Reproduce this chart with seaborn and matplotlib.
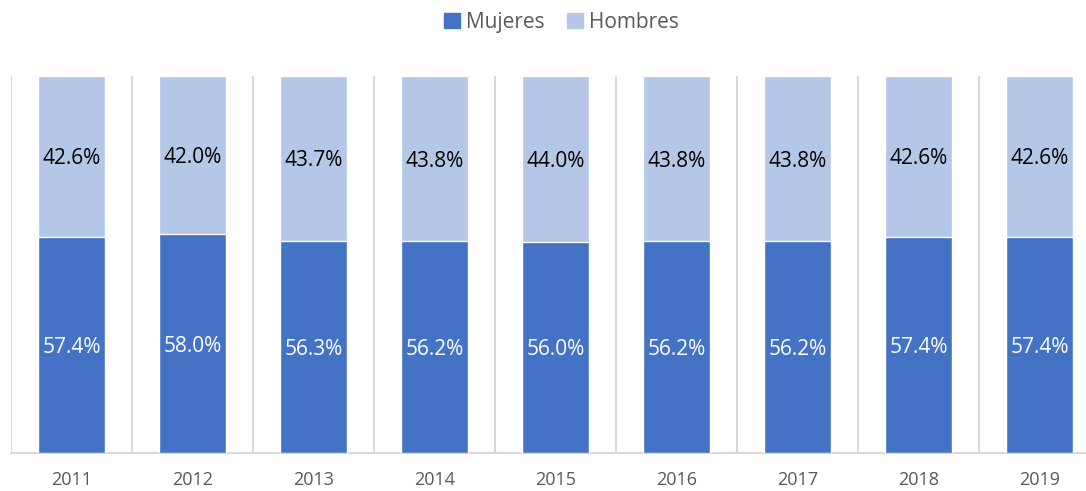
import matplotlib
matplotlib.use("Agg")
import matplotlib.pyplot as plt
from matplotlib.patches import Patch
import seaborn as sns
import pandas as pd

# datos del grafico (porcentajes por anio)
anios = ['2011', '2012', '2013', '2014', '2015', '2016', '2017', '2018', '2019']
mujeres = [57.4, 58.0, 56.3, 56.2, 56.0, 56.2, 56.2, 57.4, 57.4]
hombres = [42.6, 42.0, 43.7, 43.8, 44.0, 43.8, 43.8, 42.6, 42.6]

colorMujeres = '#4472C4'
colorHombres = '#B4C7E7'
gris = '#595959'

sns.set_theme(style='white')
plt.rcParams['font.family'] = ['Open Sans', 'DejaVu Sans']

df = pd.DataFrame({'anio': anios, 'mujeres': mujeres, 'hombres': hombres})
df['total'] = df['mujeres'] + df['hombres']

fig = plt.figure(figsize=(10.86, 4.91), dpi=100)
ax = fig.add_axes([11 / 1086, 38 / 491, 1089 / 1086, 377 / 491])

# barra completa (hombres arriba) y luego mujeres encima
sns.barplot(data=df, x='anio', y='total', color=colorHombres, width=0.55,
            saturation=1, ax=ax, zorder=3)
sns.barplot(data=df, x='anio', y='mujeres', color=colorMujeres, width=0.55,
            saturation=1, ax=ax, zorder=3)

ax.set_xlim(-0.5, len(anios) - 0.5)
ax.set_ylim(0, 100)

# etiquetas dentro de las barras
for i, (m, h) in enumerate(zip(mujeres, hombres)):
    ax.text(i, m / 2, f'{m:.1f}%', ha='center', va='center_baseline', color='white',
            fontsize=15, zorder=4)
    ax.text(i, m + h / 2, f'{h:.1f}%', ha='center', va='center_baseline', color='black',
            fontsize=15, zorder=4)

# lineas verticales entre categorias
ax.set_xticks([i - 0.5 for i in range(len(anios) + 1)], minor=True)
ax.grid(which='minor', axis='x', color='#D9D9D9', linewidth=1.5, zorder=1)
ax.grid(which='major', visible=False)
ax.tick_params(axis='x', which='both', length=0)
ax.tick_params(axis='x', which='major', pad=13, labelsize=13, labelcolor=gris)
ax.set_yticks([])
ax.set_xlabel('')
ax.set_ylabel('')

for lado in ['top', 'right', 'left']:
    ax.spines[lado].set_visible(False)
ax.spines['bottom'].set_color('#D9D9D9')
ax.spines['bottom'].set_linewidth(1.5)

handles = [Patch(color=colorMujeres, label='Mujeres'),
           Patch(color=colorHombres, label='Hombres')]
fig.legend(handles=handles, loc='center', bbox_to_anchor=(0.517, 0.955), ncol=2,
           frameon=False, fontsize=15, labelcolor=gris, handlelength=0.75,
           handleheight=0.75, handletextpad=0.3, columnspacing=1.1)

fig.savefig('out.png', dpi=100)
